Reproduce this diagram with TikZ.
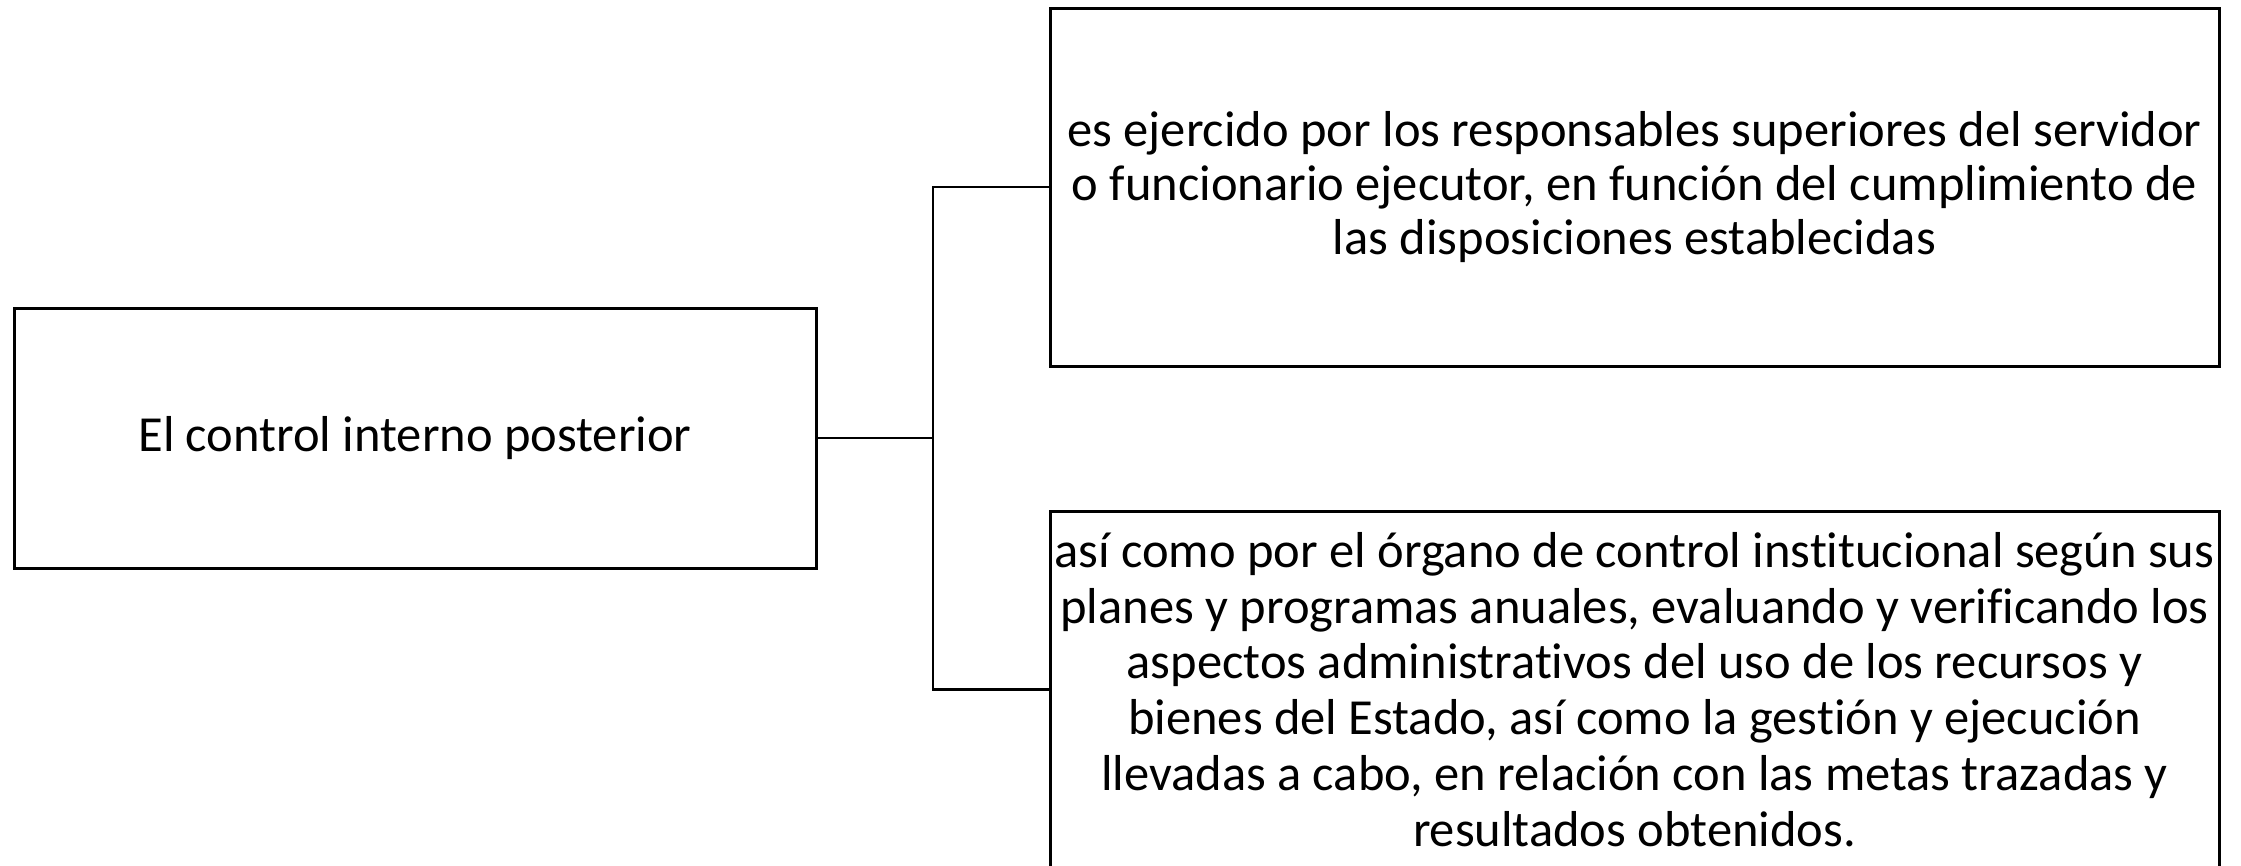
\documentclass[tikz,border=0pt]{standalone}
\usepackage{fontspec}
\setmainfont{Carlito}[Ligatures={NoCommon}]
\tikzset{
  box/.style={draw=black, line width=3pt, rectangle, inner sep=0pt, align=center, fill=white},
  link/.style={draw=black, line width=2.2pt},
}
\begin{document}
\begin{tikzpicture}[x=1pt,y=-1pt]
\useasboundingbox[fill=white] (0,0) rectangle (2241,865);
\node[box, minimum width=802pt, minimum height=260pt, font=\fontsize{50.5}{55}\selectfont] (left) at (415,438) {El control interno posterior};
\node[box, minimum width=1169pt, minimum height=358pt, font=\fontsize{50.5}{54}\selectfont] (top) at (1634.5,187) {es ejercido por los responsables superiores del servidor\\o funcionario ejecutor, en función del cumplimiento de\\las disposiciones establecidas};
\node[box, minimum width=1169pt, minimum height=357pt, font=\fontsize{50.5}{55.7}\selectfont] (bot) at (1634.5,689.5) {así como por el órgano de control institucional según sus\\planes y programas anuales, evaluando y verificando los\\aspectos administrativos del uso de los recursos y\\bienes del Estado, así como la gestión y ejecución\\llevadas a cabo, en relación con las metas trazadas y\\resultados obtenidos.};
\coordinate (j) at (933,438);
\draw[link] (left.east) -- (j);
\draw[link] (top.west) -| (j);
\draw[link] (bot.west) -| (j);
\end{tikzpicture}
\end{document}
